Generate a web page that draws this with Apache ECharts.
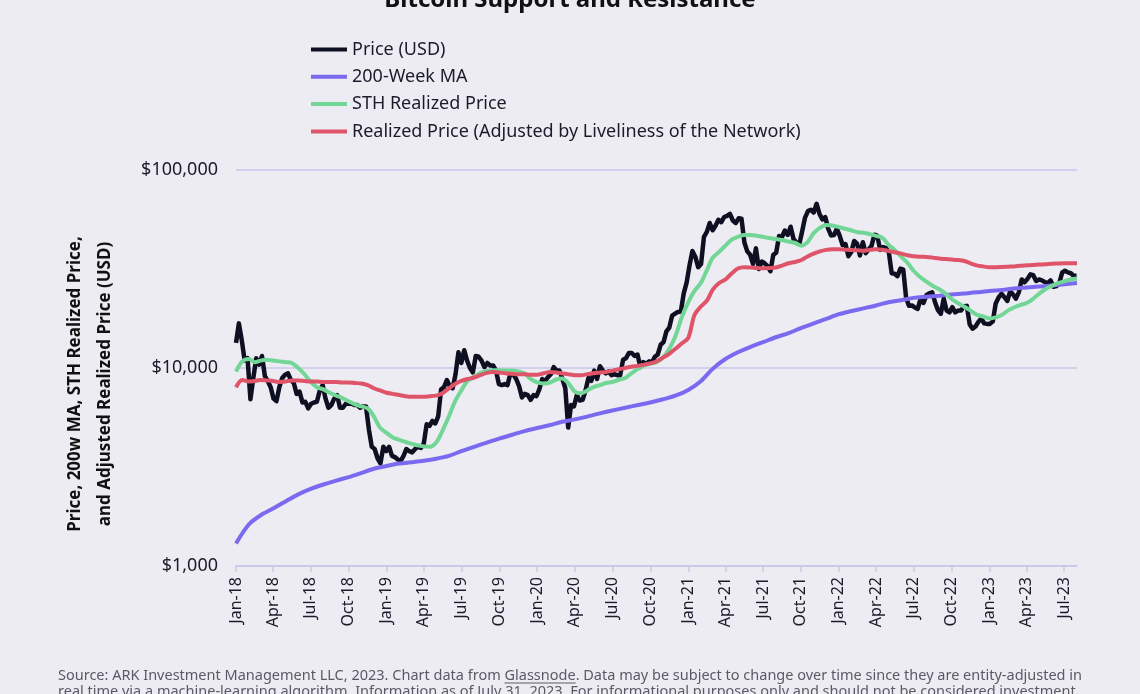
<!DOCTYPE html>
<html><head><meta charset="utf-8">
<script src="https://cdn.jsdelivr.net/npm/echarts@6/dist/echarts.min.js"></script>
<style>html,body{margin:0;padding:0;background:#ECECF2;}#c{width:1140px;height:694px;}</style>
</head><body><div id="c"></div>
<script>
// ---- DATA ----
// Weekly BTC price (USD), every 7 days starting 2018-01-01 (Mondays) through 2023-07-31
const priceValues = [
// 2018
13400,16800,13800,10900,11200, 6950,8900,11200,10400, 11500,9100,8600,8000, 7000,6800,8000,8900,9250, 9400,8700,8400,7400, 7600,6700,6750,6250, 6600,6700,6750,7700,8200, 7000,6300,6500,7000, 7300,6300,6300,6600, 6600,6600,6500,6500,6300, 6400,6400,4900,4000, 3900,3500,3300,4000,3800,
// 2019
4000,3600,3550,3450, 3400,3600,3900,3800, 3750,3900,4000,3950, 4150,5200,5100,5400,5250, 5700,7800,8000,8700, 8100,7900,9300,12000, 10600,12300,10900,10000,9500, 11500,11400,10900,10100, 10600,10300,10300,9700,8300, 8200,8300,8200,9400, 9300,8800,8100,7100, 7400,7300,6900,7300,7200,
// 2020
7800,8800,8600,9000, 9300,10100,9700,9700, 8800,7900,5000,6500,6400, 7300,6850,6900,7700, 8900,8600,9700,8800, 10200,9700,9400,9600,9200, 9300,9200,9200,11000, 11200,11900,11900,11500,11700, 10100,10700,10500,10800, 10700,11400,11700,13100, 13500,15300,16000,18400,18800, 19200,19300,23800,27000,
// 2021
33000,39000,36500,32300, 33500,46000,48700,54000, 49600,52300,56000,54500,57900, 58700,60000,55600,54000, 57000,56700,43000,38800,37300, 33500,40200,31600,34500, 33800,32700,30800,37300, 38200,46400,45900,49500,47000, 51700,44900,43000,42200, 49100,57500,62000,63000, 61000,67500,60000,56300,57800, 50600,46700,46900,50600,
// 2022
46500,41800,42300,36700,38500, 43800,42500,37000,43200, 38000,39700,41300,47100, 46600,39500,40800,40400, 38500,30100,29900,29100,31800, 31400,22500,20600,20700, 20200,19900,22400,21300, 23300,23800,24100,21500,19600, 18800,22400,19500,19100, 20300,19100,19500,19500,20500, 20600,16600,15800,16200, 17100,17800,16800,16700,
// 2023
16700,17200,21200,22700,23700, 22800,21800,24400,23500, 22400,24100,28000,27100, 28200,29700,29400,27500, 28000,27700,27200,26800,27700, 25700,25900,26800,30300, 31000,30400,30100,29200,29200
];
// 200-week moving average, 1st of each month 2018-01 .. 2023-08
const ma200Values = [
1300,1620,1800,1950,2120,2300,2450,2580,2700,2810,2950,3100,
3200,3290,3340,3400,3480,3600,3800,4000,4200,4400,4600,4800,
4980,5150,5350,5500,5680,5900,6100,6300,6500,6700,6950,7250,
7750,8600,9900,11100,12000,12800,13500,14300,15000,15900,16800,17700,
18700,19400,20000,20700,21500,22000,22600,22900,23200,23500,23800,24100,
24500,24800,25200,25500,25800,26100,26500,26900
];
// STH realized price, 1st and 16th of each month 2018-01 .. 2023-08-01
const sthValues = [
9600,10800,11100,10700,10900,11000,10900,10800,10700,10600,10000,9300,8500,8000,7800,7500,7250,7050,6800,6550,6400,6250,5700,5000,
4700,4460,4330,4230,4150,4070,4020,4000,4200,4800,5700,6800,7700,8600,9000,9450,9650,9750,9750,9700,9700,9600,9400,8800,
8450,8350,8450,8750,8850,8400,7600,7450,7700,8000,8200,8400,8500,8700,8900,9400,9900,10300,10500,10700,11300,12500,14500,18000,
21500,24500,27000,31500,36000,38500,41500,44500,46000,46900,47000,46600,46000,45300,44800,44300,43500,42900,41500,43000,48000,51000,52700,52500,
51500,50500,49500,48500,48200,47500,46500,45500,42000,39500,36500,34000,31000,28900,27300,26000,25000,23800,22300,21300,20400,19500,18600,18200,
17800,18000,18600,19600,20200,20800,21300,22300,23700,25000,26000,26800,27400,28000,28300
];
// Realized price adjusted by liveliness, same semi-monthly dates
const realizedValues = [
8000,8700,8550,8600,8700,8650,8600,8500,8550,8650,8650,8600,8550,8550,8500,8500,8500,8450,8450,8400,8350,8200,7900,7700,
7500,7400,7300,7200,7150,7150,7150,7200,7250,7450,7900,8300,8600,8800,8950,9200,9450,9550,9500,9400,9350,9300,9300,9250,
9250,9400,9550,9500,9400,9300,9200,9200,9300,9400,9500,9550,9700,9850,10000,10150,10250,10400,10550,10800,11300,11800,12500,13300,
14200,18500,20500,22000,24800,26800,28000,30000,31800,32300,32200,32000,31900,32000,32200,32900,33800,34300,35000,36500,37800,38800,39500,39800,
39800,39600,39400,39300,39100,39500,39800,39600,39000,38400,37800,37100,36700,36500,36400,36100,35700,35500,35300,35100,34700,33800,33000,32600,
32300,32300,32400,32500,32600,32800,33000,33100,33300,33400,33600,33700,33800,33800,33800
];
const xTickLabels = ['Jan-18','Apr-18','Jul-18','Oct-18','Jan-19','Apr-19','Jul-19','Oct-19','Jan-20','Apr-20','Jul-20','Oct-20','Jan-21','Apr-21','Jul-21','Oct-21','Jan-22','Apr-22','Jul-22','Oct-22','Jan-23','Apr-23','Jul-23'];
const seriesNames = ['Price (USD)','200-Week MA','STH Realized Price','Realized Price (Adjusted by Liveliness of the Network)'];

// ---- BUILD ----
const DAY = 86400000;
const t0 = Date.UTC(2018,0,1);
const dayOf = t => (t - t0) / DAY;            // x = days since 2018-01-01
const priceData = priceValues.map((v,i)=>[i*7, v]);
const maData = ma200Values.map((v,m)=>[dayOf(Date.UTC(2018,m,1)), v]);
const semi = k => (k%2===0) ? Date.UTC(2018,k/2,1) : Date.UTC(2018,(k-1)/2,16);
const sthData = sthValues.map((v,k)=>[dayOf(semi(k)), v]);
const realData = realizedValues.map((v,k)=>[dayOf(semi(k)), v]);
const tickDays = xTickLabels.map((s,i)=>dayOf(Date.UTC(2018, i*3, 1)));
const labelMap = {}; tickDays.forEach((d,i)=>labelMap[d]=xTickLabels[i]);

const FONT = 'Noto Sans';
const TXT = '#1b1b2b';
const GRID = '#C9C9EC';
const footFont = '14.5px "Liberation Sans Narrow", "Noto Sans"';
const footLine1 = 'Source: ARK Investment Management LLC, 2023. Chart data from Glassnode. Data may be subject to change over time since they are entity-adjusted in';
const footLine2 = 'real time via a machine-learning algorithm. Information as of July 31, 2023. For informational purposes only and should not be considered investment';
const mctx = document.createElement('canvas').getContext('2d');
mctx.font = footFont;
const FOOT_X = 58, FOOT_Y = 668;
const ulx1 = FOOT_X + mctx.measureText('Source: ARK Investment Management LLC, 2023. Chart data from ').width;
const ulx2 = ulx1 + mctx.measureText('Glassnode').width;
const lineIcon = 'path://M0,0h0.01v0.01h-0.01z M0,39h200v22h-200z M199.99,99.99h0.01v0.01h-0.01z';

const chart = echarts.init(document.getElementById('c'), null, {renderer:'canvas'});
chart.setOption({
  backgroundColor: '#ECECF2',
  animation: false,
  title: {text:'Bitcoin Support and Resistance', left:'center', top:-17,
    textStyle:{fontFamily:FONT, fontSize:24, fontWeight:'bold', color:'#111'}},
  legend: {orient:'vertical', left:306, top:35.5, itemWidth:36, itemHeight:18, itemGap:9.3,
    icon: lineIcon,
    textStyle:{fontFamily:FONT, fontSize:18, color:TXT},
    data: seriesNames},
  grid: {left:236, right:63, top:170, bottom:128},
  xAxis: {type:'value', min:0, max:dayOf(Date.UTC(2023,7,1)),
    axisLine:{lineStyle:{color:GRID, width:1.5}},
    axisTick:{show:true, length:6, lineStyle:{color:GRID, width:1.5}, customValues:tickDays},
    axisLabel:{customValues:tickDays, rotate:90, fontFamily:FONT, fontSize:16, color:TXT, margin:11,
      formatter: v => labelMap[v] || ''},
    splitLine:{show:false}},
  yAxis: {type:'log', logBase:10, min:1000, max:100000,
    axisLine:{show:false}, axisTick:{show:false},
    axisLabel:{fontFamily:FONT, fontSize:18, color:TXT, margin:18,
      formatter: v => '$' + Math.round(v).toLocaleString('en-US')},
    splitLine:{show:true, lineStyle:{color:GRID, width:1.5}}},
  series: [
    {name:seriesNames[0], type:'line', data:priceData, showSymbol:false, symbol:'none',
      lineStyle:{color:'#0f0f22', width:4.5, join:'round'}, itemStyle:{color:'#0f0f22'}},
    {name:seriesNames[1], type:'line', data:maData, showSymbol:false, symbol:'none', smooth:0.3,
      lineStyle:{color:'#7A6AF0', width:4}, itemStyle:{color:'#7A6AF0'}},
    {name:seriesNames[2], type:'line', data:sthData, showSymbol:false, symbol:'none', smooth:0.3,
      lineStyle:{color:'#72D696', width:4}, itemStyle:{color:'#72D696'}},
    {name:seriesNames[3], type:'line', data:realData, showSymbol:false, symbol:'none', smooth:0.3,
      lineStyle:{color:'#E05469', width:4}, itemStyle:{color:'#E05469'}}
  ],
  graphic: [
    {type:'text', x:90, y:384, rotation:Math.PI/2, style:{
      text:'Price, 200w MA, STH Realized Price,\nand Adjusted Realized Price (USD)',
      font:'bold 17px "Noto Sans"', fill:'#111', lineHeight:30, align:'center', verticalAlign:'middle'}},
    {type:'text', left:FOOT_X, top:FOOT_Y, style:{
      text: footLine1 + '\n' + footLine2, font:footFont, fill:'#5a5a66', lineHeight:16}},
    {type:'line', shape:{x1:ulx1, y1:FOOT_Y+15, x2:ulx2, y2:FOOT_Y+15}, style:{stroke:'#5a5a66', lineWidth:1}}
  ]
});
</script></body></html>
